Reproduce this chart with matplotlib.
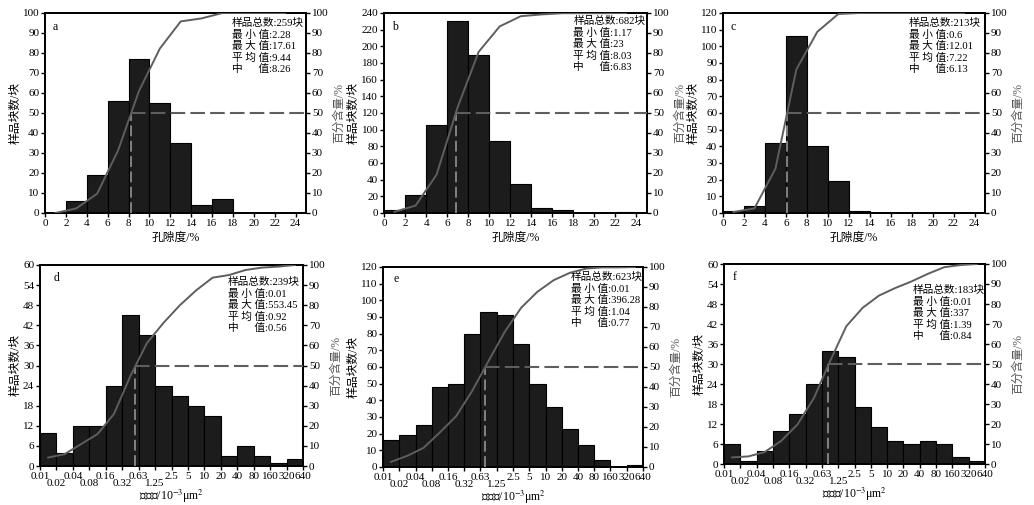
import numpy as np
import matplotlib
matplotlib.use("Agg")
import matplotlib.pyplot as plt

plt.rcParams['font.family'] = ['Liberation Serif', 'Noto Sans CJK SC', 'DejaVu Serif']
plt.rcParams['mathtext.fontset'] = 'stix'
plt.rcParams['axes.unicode_minus'] = False

# ---------------- data ----------------
por_bin_left = [0, 2, 4, 6, 8, 10, 12, 14, 16, 18, 20, 22]
por_counts_a = [0, 6, 19, 56, 77, 55, 35, 4, 7, 0, 0, 0]
por_counts_b = [4, 21, 106, 230, 189, 86, 35, 6, 4, 0, 0, 1]
por_counts_c = [1, 4, 42, 106, 40, 19, 1, 0, 0, 0, 0, 0]
por_cum_a = [0.0, 2.3, 9.7, 31.3, 61.0, 82.2, 95.8, 97.3, 100, 100, 100, 100]
por_cum_b = [0.6, 3.7, 19.2, 52.9, 80.6, 93.3, 98.4, 99.3, 99.9, 99.9, 99.9, 100]
por_cum_c = [0.5, 2.3, 22.1, 71.8, 90.6, 99.5, 100, 100, 100, 100, 100, 100]
por_median = {'a': 8.26, 'b': 6.83, 'c': 6.13}

perm_ticks = ['0.01', '0.02', '0.04', '0.08', '0.16', '0.32', '0.63', '1.25',
              '2.5', '5', '10', '20', '40', '80', '160', '320', '640']
perm_counts_d = [10, 4, 12, 12, 24, 45, 39, 24, 21, 18, 15, 3, 6, 3, 1, 2]
perm_counts_e = [16, 19, 25, 48, 50, 80, 93, 91, 74, 50, 36, 23, 13, 4, 0, 1]
perm_counts_f = [6, 1, 4, 10, 15, 24, 34, 32, 17, 11, 7, 6, 7, 6, 2, 1]
perm_cum_d = [4.2, 5.9, 10.9, 15.9, 25.9, 44.8, 61.1, 71.1, 79.9, 87.4, 93.7, 95.0, 97.5, 98.7, 99.2, 100]
perm_cum_e = [2.6, 5.6, 9.6, 17.3, 25.4, 38.2, 53.1, 67.7, 79.6, 87.6, 93.4, 97.1, 99.2, 99.8, 99.8, 100]
perm_cum_f = [3.3, 3.8, 6.0, 11.5, 19.7, 32.8, 51.4, 68.9, 78.1, 84.2, 88.0, 91.3, 95.1, 98.4, 99.5, 100]
perm_median = {'d': 0.56, 'e': 0.77, 'f': 0.84}

stats = {
    'a': ['样品总数:259块', '最 小 值:2.28', '最 大 值:17.61', '平 均 值:9.44', '中      值:8.26'],
    'b': ['样品总数:682块', '最 小 值:1.17', '最 大 值:23', '平 均 值:8.03', '中      值:6.83'],
    'c': ['样品总数:213块', '最 小 值:0.6', '最 大 值:12.01', '平 均 值:7.22', '中      值:6.13'],
    'd': ['样品总数:239块', '最 小 值:0.01', '最 大 值:553.45', '平 均 值:0.92', '中      值:0.56'],
    'e': ['样品总数:623块', '最 小 值:0.01', '最 大 值:396.28', '平 均 值:1.04', '中      值:0.77'],
    'f': ['样品总数:183块', '最 小 值:0.01', '最 大 值:337', '平 均 值:1.39', '中      值:0.84'],
}

# ---------------- layout ----------------
W, H = 1034, 505
fig = plt.figure(figsize=(W / 100, H / 100), dpi=100)

def rect(l, r, t, b):
    return [l / W, 1 - b / H, (r - l) / W, (b - t) / H]

boxes = {
    'a': rect(45, 306, 13, 213),
    'b': rect(384, 647, 13, 213),
    'c': rect(723, 985, 13, 213),
    'd': rect(40, 303, 265, 466),
    'e': rect(383, 643, 267, 467),
    'f': rect(724, 985, 264, 464),
}
text_pos = {'a': (0.715, 0.975), 'b': (0.72, 0.985), 'c': (0.71, 0.975),
            'd': (0.715, 0.94), 'e': (0.722, 0.975), 'f': (0.724, 0.895)}
letter_pos = {'a': (0.03, 0.96), 'b': (0.03, 0.96), 'c': (0.03, 0.96),
              'd': (0.05, 0.965), 'e': (0.04, 0.97), 'f': (0.035, 0.965)}
ylims = {'a': (100, 10), 'b': (240, 20), 'c': (120, 10),
         'd': (60, 6), 'e': (120, 10), 'f': (60, 6)}

BAR_C = '#1c1c1c'
CUM_C = '#5e5e5e'
HL_C = '#5e5e5e'
VL_C = '#8a8a8a'
FS_TICK = 8.0
FS_LAB = 8.5
FS_TXT = 7.7


def style(ax, ax2, key):
    ymax, ystep = ylims[key]
    ax.set_ylim(0, ymax)
    ax.set_yticks(np.arange(0, ymax + 0.1, ystep))
    ax2.set_ylim(0, 100)
    ax2.set_yticks(np.arange(0, 101, 10))
    for a in (ax, ax2):
        a.tick_params(which='both', direction='out', length=3, width=1,
                      labelsize=FS_TICK, pad=1.2)
        for s in a.spines.values():
            s.set_linewidth(1.3)
    ax.set_ylabel('样品块数/块', fontsize=FS_LAB, labelpad=1)
    ax2.set_ylabel('百分含量/%', fontsize=FS_LAB, color='#555555', labelpad=3)
    ax.text(*letter_pos[key], key, transform=ax.transAxes, fontsize=FS_TXT + 0.8,
            ha='left', va='top')
    ax.text(*text_pos[key], '\n'.join(stats[key]), transform=ax.transAxes,
            fontsize=FS_TXT, ha='left', va='top', linespacing=1.18, zorder=10)


por_sets = {'a': (por_counts_a, por_cum_a), 'b': (por_counts_b, por_cum_b),
            'c': (por_counts_c, por_cum_c)}
for key, (counts, cum) in por_sets.items():
    ax = fig.add_axes(boxes[key])
    ax2 = ax.twinx()
    left = np.array(por_bin_left, dtype=float)
    ax.bar(left, counts, width=2, align='edge', color=BAR_C, edgecolor='black', linewidth=0.8)
    centers = left + 1
    ax2.plot(centers, cum, color=CUM_C, lw=1.4, zorder=5)
    med = por_median[key]
    ax2.plot([med, med], [0, 50], color=VL_C, lw=1.3, ls=(0, (6, 2.5)), zorder=4)
    ax2.plot([med, 25], [50, 50], color=HL_C, lw=1.5, ls=(0, (7, 2.5)), zorder=4)
    ax.set_xlim(0, 25)
    ax.set_xticks(np.arange(0, 25, 2))
    style(ax, ax2, key)
    ax.set_xlabel('孔隙度/%', fontsize=FS_LAB)
    ax.xaxis.label.set_va('center')
    ax.xaxis.set_label_coords(0.5, -0.125)

perm_sets = {'d': (perm_counts_d, perm_cum_d), 'e': (perm_counts_e, perm_cum_e),
             'f': (perm_counts_f, perm_cum_f)}
for key, (counts, cum) in perm_sets.items():
    ax = fig.add_axes(boxes[key])
    ax2 = ax.twinx()
    idx = np.arange(len(counts))
    ax.bar(idx, counts, width=1, align='edge', color=BAR_C, edgecolor='black', linewidth=0.8)
    ax2.plot(idx + 0.5, cum, color=CUM_C, lw=1.4, zorder=5)
    medx = np.log2(perm_median[key] / float(perm_ticks[0]))
    ax2.plot([medx, medx], [0, 50], color=VL_C, lw=1.3, ls=(0, (6, 2.5)), zorder=4)
    ax2.plot([medx, len(counts)], [50, 50], color=HL_C, lw=1.5, ls=(0, (7, 2.5)), zorder=4)
    ax.set_xlim(0, len(counts))
    low = [i for i in range(len(perm_ticks)) if i % 2 == 1 and i <= 7]
    high = [i for i in range(len(perm_ticks)) if i not in low]
    ax.set_xticks(high)
    ax.set_xticklabels([perm_ticks[i] for i in high])
    ax.set_xticks(low, minor=True)
    ax.set_xticklabels([perm_ticks[i] for i in low], minor=True)
    style(ax, ax2, key)
    ax.tick_params(axis='x', which='minor', pad=6.5)
    ax.set_xlabel('渗透率/10$^{-3}$μm$^{2}$', fontsize=FS_LAB)
    ax.xaxis.label.set_va('center')
    ax.xaxis.set_label_coords(0.5, -0.152)

fig.savefig('out.png', dpi=100)
